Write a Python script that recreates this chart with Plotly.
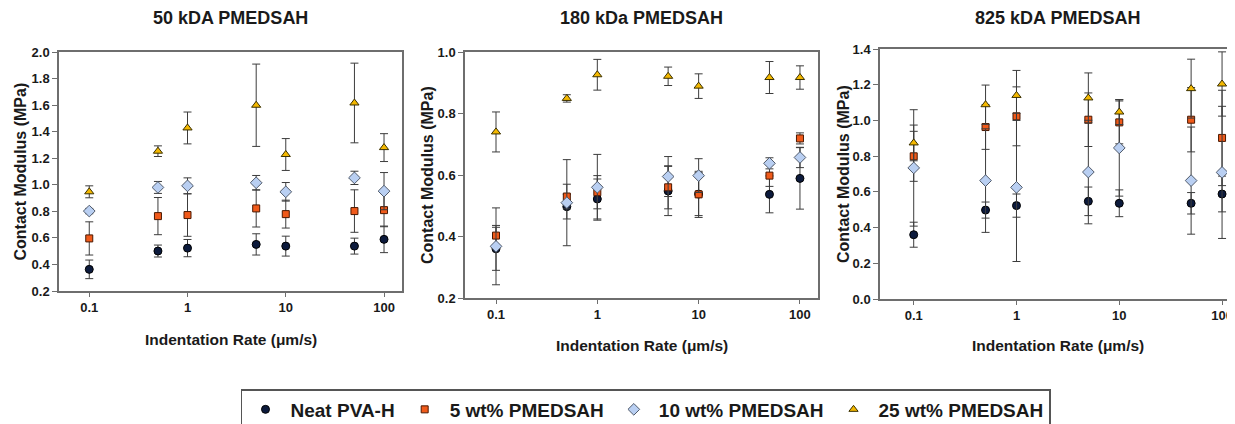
import plotly.graph_objects as go

# The page body adds an 8px margin, so the figure is 8px smaller and all
# pixel positions below are given in page pixels and shifted by OFF.
OFF = 8
W, H = 1235 - OFF, 424 - OFF

rates = [0.1, 0.5, 1, 5, 10, 50, 100]
series_names = ["Neat PVA-H", "5 wt% PMEDSAH", "10 wt% PMEDSAH", "25 wt% PMEDSAH"]
panel_titles = ["50 kDA PMEDSAH", "180 kDa PMEDSAH", "825 kDA PMEDSAH"]

# Panel 1: 50 kDa
p1_neat = [0.363, 0.501, 0.523, 0.551, 0.538, 0.538, 0.589]
p1_neat_err = [0.07, 0.045, 0.065, 0.08, 0.075, 0.06, 0.1]
p1_wt5 = [0.596, 0.764, 0.772, 0.822, 0.779, 0.802, 0.809]
p1_wt5_err = [0.125, 0.14, 0.16, 0.14, 0.105, 0.16, 0.125]
p1_wt10 = [0.802, 0.98, 0.992, 1.015, 0.947, 1.052, 0.952]
p1_wt10_err = [0.02, 0.045, 0.06, 0.055, 0.07, 0.05, 0.14]
p1_wt25 = [0.947, 1.253, 1.428, 1.599, 1.228, 1.616, 1.28]
p1_wt25_err = [0.045, 0.04, 0.12, 0.31, 0.12, 0.3, 0.105]

# Panel 2: 180 kDa
p2_neat = [0.36, 0.497, 0.522, 0.548, 0.538, 0.537, 0.589]
p2_neat_err = [0.07, 0.04, 0.065, 0.08, 0.07, 0.06, 0.1]
p2_wt5 = [0.403, 0.53, 0.544, 0.56, 0.537, 0.598, 0.719]
p2_wt5_err = [0.033, 0.04, 0.054, 0.07, 0.075, 0.035, 0.018]
p2_wt10 = [0.368, 0.51, 0.56, 0.595, 0.598, 0.638, 0.657]
p2_wt10_err = [0.125, 0.14, 0.107, 0.065, 0.055, 0.018, 0.033]
p2_wt25 = [0.74, 0.849, 0.926, 0.921, 0.889, 0.917, 0.917]
p2_wt25_err = [0.065, 0.012, 0.05, 0.03, 0.04, 0.052, 0.038]

# Panel 3: 825 kDa
p3_neat = [0.36, 0.498, 0.523, 0.547, 0.536, 0.536, 0.588]
p3_neat_err = [0.07, 0.045, 0.065, 0.08, 0.075, 0.06, 0.1]
p3_wt5 = [0.799, 0.963, 1.023, 1.004, 0.989, 1.004, 0.902]
p3_wt5_err = [0.14, 0.125, 0.165, 0.15, 0.12, 0.18, 0.267]
p3_wt10 = [0.734, 0.663, 0.625, 0.711, 0.846, 0.663, 0.709]
p3_wt10_err = [0.326, 0.29, 0.415, 0.29, 0.27, 0.3, 0.37]
p3_wt25 = [0.874, 1.088, 1.14, 1.126, 1.047, 1.178, 1.204]
p3_wt25_err = [0.1, 0.11, 0.14, 0.14, 0.07, 0.165, 0.18]

panels = [
    [(p1_neat, p1_neat_err), (p1_wt5, p1_wt5_err), (p1_wt10, p1_wt10_err), (p1_wt25, p1_wt25_err)],
    [(p2_neat, p2_neat_err), (p2_wt5, p2_wt5_err), (p2_wt10, p2_wt10_err), (p2_wt25, p2_wt25_err)],
    [(p3_neat, p3_neat_err), (p3_wt5, p3_wt5_err), (p3_wt10, p3_wt10_err), (p3_wt25, p3_wt25_err)],
]

styles = [
    dict(symbol="circle", size=8, color="#0c1a3c", line=dict(color="#000000", width=1)),
    dict(symbol="square", size=7, color="#f05a1a", line=dict(color="#4a1800", width=1)),
    dict(symbol="diamond", size=9, color="#b9cff2", line=dict(color="#505a6a", width=1)),
    dict(symbol="triangle-up", size=8, color="#f4b800", line=dict(color="#3a3000", width=1)),
]

# page-pixel geometry of each plotting area: (left, right, top, bottom)
boxes = [(59, 402, 52, 291), (465, 818, 52, 298), (880, 1235, 49, 299)]
xranges = [[-1.308, 2.183], [-1.306, 2.178], [-1.328, 2.126]]
yranges = [[0.2, 2.0], [0.2, 1.0], [0.0, 1.4]]
ytitle_x = [20, 427, 843]
xtitle_y = [339, 345, 345]


def px(v):
    return (v - OFF) / W


def py(v):
    return 1 - (v - OFF) / H


FONT = "Liberation Sans, Arial, sans-serif"
AX = "#6e6e6e"
TXT = "#1a1a1a"

fig = go.Figure()
layout = dict(
    width=W, height=H,
    margin=dict(l=0, r=0, t=0, b=0, pad=0, autoexpand=False),
    paper_bgcolor="white", plot_bgcolor="white",
    font=dict(family=FONT, color=TXT),
    showlegend=True,
    legend=dict(
        orientation="h", xref="container", yref="container",
        x=px(645.5), xanchor="center", y=py(389), yanchor="top",
        bgcolor="white", bordercolor="#555555", borderwidth=1.5,
        font=dict(family=FONT, size=19, weight="bold", color=TXT),
        itemwidth=40, tracegroupgap=0,
    ),
    annotations=[],
)

for i, (series, box) in enumerate(zip(panels, boxes)):
    sfx = "" if i == 0 else str(i + 1)
    l, r, t, b = box
    for j, ((vals, errs), st) in enumerate(zip(series, styles)):
        fig.add_trace(go.Scatter(
            x=rates, y=vals, mode="markers", name=series_names[j],
            xaxis="x" + sfx, yaxis="y" + sfx,
            showlegend=(i == 0), legendgroup=series_names[j],
            marker=dict(symbol=st["symbol"], size=st["size"], color=st["color"], line=st["line"]),
            error_y=dict(type="data", array=errs, visible=True, color="#3c3c3c", thickness=1, width=4),
        ))
    layout["xaxis" + sfx] = dict(
        type="log", range=xranges[i], domain=[px(l), min(1.0, px(r))],
        anchor="y" + sfx, showgrid=False, zeroline=False,
        showline=True, linecolor=AX, linewidth=1.5, mirror=True,
        ticks="outside", ticklen=4, tickcolor=AX, tickwidth=1,
        tickvals=[0.1, 1, 10, 100], ticktext=["0.1", "1", "10", "100"],
        tickfont=dict(family=FONT, size=13, weight="bold", color=TXT),
    )
    layout["yaxis" + sfx] = dict(
        range=yranges[i], domain=[py(b), py(t)],
        anchor="x" + sfx, showgrid=False, zeroline=False,
        showline=True, linecolor=AX, linewidth=1.5, mirror=True,
        ticks="outside", ticklen=5, tickcolor=AX, tickwidth=1,
        dtick=0.2, tickformat=".1f",
        tickfont=dict(family=FONT, size=13, weight="bold", color=TXT),
    )
    layout["annotations"].append(dict(
        text=panel_titles[i], xref="paper", yref="paper",
        x=px((l + r) / 2), y=py(18), xanchor="center", yanchor="middle",
        showarrow=False, font=dict(family=FONT, size=18, weight="bold", color=TXT),
    ))
    layout["annotations"].append(dict(
        text="Indentation Rate (\u03bcm/s)", xref="paper", yref="paper",
        x=px((l + r) / 2), y=py(xtitle_y[i]), xanchor="center", yanchor="middle",
        showarrow=False, font=dict(family=FONT, size=15.5, weight="bold", color=TXT),
    ))
    layout["annotations"].append(dict(
        text="Contact Modulus (MPa)", xref="paper", yref="paper", textangle=-90,
        x=px(ytitle_x[i]), y=py((t + b) / 2), xanchor="center", yanchor="middle",
        showarrow=False, font=dict(family=FONT, size=16, weight="bold", color=TXT),
    ))

fig.update_layout(**layout)
fig.write_html("out.html")
